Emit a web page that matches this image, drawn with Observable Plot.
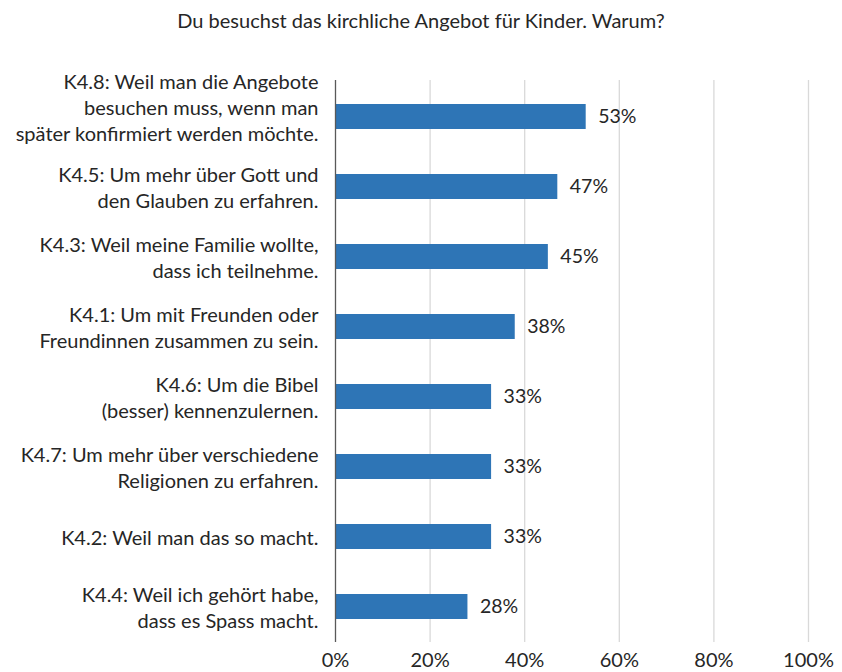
<!DOCTYPE html>
<html>
<head>
<meta charset="utf-8">
<script src="https://cdn.jsdelivr.net/npm/d3@7"></script>
<script src="https://cdn.jsdelivr.net/npm/@observablehq/plot@0.6"></script>
<style>
  body { margin: 0; background: #fff; }
  #title { height: 40px; line-height: 40px; text-align: center; font-family: Lato, sans-serif; font-size: 20px; color: #262626; width: 842px; }
</style>
</head>
<body>
<div id="title">Du besuchst das kirchliche Angebot für Kinder. Warum?</div>
<div id="chart"></div>
<script>
const labels = [
  "K4.8: Weil man die Angebote\nbesuchen muss, wenn man\nspäter konfirmiert werden möchte.",
  "K4.5: Um mehr über Gott und\nden Glauben zu erfahren.",
  "K4.3: Weil meine Familie wollte,\ndass ich teilnehme.",
  "K4.1: Um mit Freunden oder\nFreundinnen zusammen zu sein.",
  "K4.6: Um die Bibel\n(besser) kennenzulernen.",
  "K4.7: Um mehr über verschiedene\nReligionen zu erfahren.",
  "K4.2: Weil man das so macht.",
  "K4.4: Weil ich gehört habe,\ndass es Spass macht."
];
const values = [53, 47, 45, 38, 33, 33, 33, 28];
const xTicks = [0, 20, 40, 60, 80, 100];

const data = labels.map((label, i) => ({label, value: values[i]}));
const threeLine = data.filter(d => d.label.split("\n").length === 3);
const others = data.filter(d => d.label.split("\n").length !== 3);

const font = "Lato, sans-serif";
const chart = Plot.plot({
  width: 842,
  height: 632,
  marginTop: 40,
  marginBottom: 30,
  marginLeft: 335,
  marginRight: 34,
  style: {fontFamily: font, fontSize: "20px", color: "#262626", background: "#fff", overflow: "visible"},
  x: {domain: [0, 100], axis: null},
  y: {domain: labels, paddingInner: 0.644, paddingOuter: 0.322, axis: null},
  marks: [
    Plot.ruleX(xTicks.filter(t => t > 0), {stroke: "#d9d9d9", strokeWidth: 1.3}),
    Plot.barX(data, {x: "value", y: "label", fill: "#2E75B6"}),
    Plot.ruleX([0], {stroke: "#595959", strokeWidth: 1.3}),
    Plot.text(data, {x: "value", y: "label", text: d => d.value + "%", textAnchor: "start", dx: 12, fill: "#262626", fontSize: 19.5}),
    Plot.text(others, {x: 0, y: "label", text: "label", textAnchor: "end", dx: -17, lineHeight: 1.3, fill: "#262626", fontSize: 20}),
    Plot.text(threeLine, {x: 0, y: "label", text: "label", textAnchor: "end", dx: -17, dy: -10, lineHeight: 1.3, fill: "#262626", fontSize: 20}),
    Plot.text(xTicks, {x: d => d, frameAnchor: "bottom", dy: 24, text: d => d + "%", fill: "#262626", fontSize: 20})
  ]
});
document.getElementById("chart").appendChild(chart);
</script>
</body>
</html>
